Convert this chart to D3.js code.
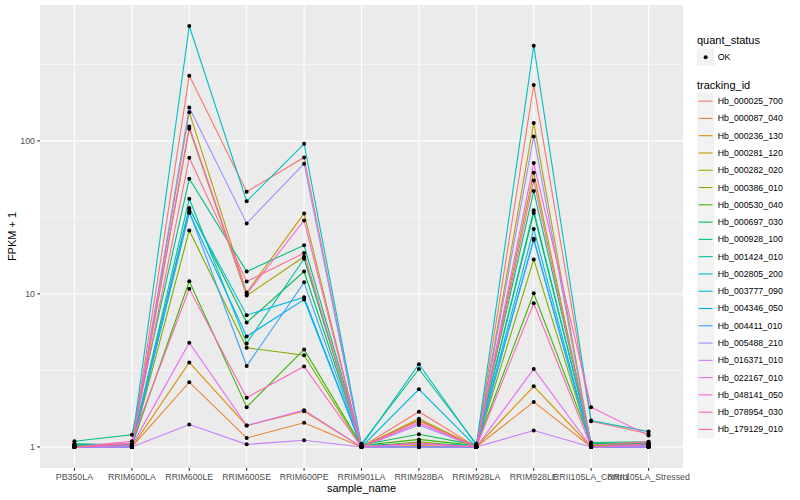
<!DOCTYPE html>
<html>
<head>
<meta charset="utf-8">
<script src="https://cdn.jsdelivr.net/npm/d3@7"></script>
<style>
  body { margin: 0; background: #fff; }
  text { font-family: "Liberation Sans", Arial, sans-serif; }
</style>
</head>
<body>
<div id="chart"></div>
<script>
// sample names on the x axis
const samples = ["PB350LA", "RRIM600LA", "RRIM600LE", "RRIM600SE", "RRIM600PE", "RRIM901LA",
  "RRIM928BA", "RRIM928LA", "RRIM928LE", "RRII105LA_Control", "RRII105LA_Stressed"];

const trackingIds = ["Hb_000025_700", "Hb_000087_040", "Hb_000236_130", "Hb_000281_120", "Hb_000282_020",
  "Hb_000386_010", "Hb_000530_040", "Hb_000697_030", "Hb_000928_100", "Hb_001424_010",
  "Hb_002805_200", "Hb_003777_090", "Hb_004346_050", "Hb_004411_010", "Hb_005488_210",
  "Hb_016371_010", "Hb_022167_010", "Hb_048141_050", "Hb_078954_030", "Hb_179129_010"];

// ggplot hue palette, 20 levels
const colors = ["#F8766D", "#EA8331", "#D89000", "#C09B00", "#A3A500", "#7CAE00", "#39B600", "#00BB4E",
  "#00BF7D", "#00C1A3", "#00BFC4", "#00BAE0", "#00B0F6", "#35A2FF", "#9590FF", "#C77CFF",
  "#E76BF3", "#FA62DB", "#FF62BC", "#FF6C91"];

// FPKM + 1, one row per tracking_id, in sample order
const fpkm = [
  [1.00, 1.02, 267, 46.5, 78.0, 1.00, 1.70, 1.00, 232, 1.47, 1.22],
  [1.00, 1.00, 2.65, 1.145, 1.44, 1.00, 1.00, 1.00, 1.97, 1.00, 1.00],
  [1.00, 1.00, 3.57, 1.38, 1.71, 1.00, 1.02, 1.00, 2.49, 1.00, 1.00],
  [1.01, 1.00, 154, 10.2, 33.6, 1.00, 1.53, 1.00, 131, 1.02, 1.02],
  [1.02, 1.01, 120, 9.75, 17.5, 1.01, 1.50, 1.01, 62.0, 1.03, 1.04],
  [1.00, 1.00, 26.0, 4.45, 3.97, 1.00, 1.08, 1.00, 16.8, 1.02, 1.03],
  [1.03, 1.02, 12.1, 1.82, 4.34, 1.02, 1.12, 1.02, 10.1, 1.05, 1.06],
  [1.05, 1.03, 36.5, 6.50, 14.0, 1.03, 1.21, 1.03, 33.8, 1.06, 1.05],
  [1.09, 1.20, 56.6, 14.0, 20.8, 1.05, 3.23, 1.05, 47.1, 1.07, 1.08],
  [1.04, 1.03, 41.9, 4.75, 17.0, 1.03, 1.05, 1.03, 35.2, 1.05, 1.04],
  [1.03, 1.05, 563, 40.3, 95.7, 1.02, 3.47, 1.03, 419, 1.49, 1.26],
  [1.00, 1.00, 35.9, 7.26, 9.52, 1.00, 2.38, 1.00, 26.6, 1.00, 1.00],
  [1.00, 1.00, 33.8, 5.27, 9.20, 1.00, 1.00, 1.00, 22.9, 1.00, 1.00],
  [1.00, 1.00, 34.5, 3.38, 11.9, 1.00, 1.00, 1.00, 22.5, 1.00, 1.00],
  [1.00, 1.00, 165, 28.9, 71.0, 1.00, 1.39, 1.00, 107, 1.01, 1.00],
  [1.00, 1.00, 1.40, 1.04, 1.105, 1.00, 1.00, 1.00, 1.28, 1.00, 1.00],
  [1.00, 1.02, 4.80, 1.38, 1.74, 1.00, 1.05, 1.00, 3.23, 1.00, 1.02],
  [1.00, 1.06, 124, 10.0, 30.2, 1.00, 1.43, 1.00, 71.6, 1.82, 1.19],
  [1.00, 1.09, 10.8, 2.10, 3.36, 1.00, 1.06, 1.00, 8.70, 1.00, 1.05],
  [1.00, 1.05, 77.6, 12.05, 18.5, 1.00, 1.48, 1.00, 55.2, 1.03, 1.08]
];

const yTicks = [1, 10, 100];
const yMinor = [Math.sqrt(10), Math.sqrt(1000), Math.sqrt(100000)];

const width = 800, height = 500;
const margin = {top: 5, right: 117, bottom: 32, left: 40};

const svg = d3.select("#chart")
  .append("svg")
  .attr("width", width)
  .attr("height", height);

// x: discrete with ggplot's 0.6 expansion
const xScale = d3.scaleLinear()
  .domain([0.4, samples.length + 0.6])
  .range([margin.left, width - margin.right]);
const xPos = i => xScale(i + 1);

// y: log10 with 5% expansion
const allVals = fpkm.flat();
const lmin = Math.log10(d3.min(allVals)), lmax = Math.log10(d3.max(allVals));
const pad = (lmax - lmin) * 0.05;
const yScale = d3.scaleLog()
  .domain([Math.pow(10, lmin - pad), Math.pow(10, lmax + pad)])
  .range([height - margin.bottom, margin.top]);

// panel
svg.append("rect")
  .attr("x", margin.left).attr("y", margin.top)
  .attr("width", width - margin.right - margin.left)
  .attr("height", height - margin.bottom - margin.top)
  .attr("fill", "#EBEBEB");

const grid = svg.append("g");
grid.selectAll(".minor").data(yMinor).enter().append("line")
  .attr("x1", margin.left).attr("x2", width - margin.right)
  .attr("y1", d => yScale(d)).attr("y2", d => yScale(d))
  .attr("stroke", "#fff").attr("stroke-width", 0.55);
grid.selectAll(".major").data(yTicks).enter().append("line")
  .attr("x1", margin.left).attr("x2", width - margin.right)
  .attr("y1", d => yScale(d)).attr("y2", d => yScale(d))
  .attr("stroke", "#fff").attr("stroke-width", 1.1);
grid.selectAll(".xg").data(samples).enter().append("line")
  .attr("x1", (d, i) => xPos(i)).attr("x2", (d, i) => xPos(i))
  .attr("y1", margin.top).attr("y2", height - margin.bottom)
  .attr("stroke", "#fff").attr("stroke-width", 1.1);

// lines
const line = d3.line()
  .x((d, i) => xPos(i))
  .y(d => yScale(d));

svg.append("g").selectAll("path")
  .data(fpkm)
  .enter()
  .append("path")
  .attr("d", d => line(d))
  .attr("fill", "none")
  .attr("stroke", (d, i) => colors[i])
  .attr("stroke-width", 1.1);

// points
const pts = svg.append("g");
fpkm.forEach(row => {
  pts.selectAll(null)
    .data(row)
    .enter()
    .append("circle")
    .attr("cx", (d, i) => xPos(i))
    .attr("cy", d => yScale(d))
    .attr("r", 2)
    .attr("fill", "#000");
});

// axes
const xAxis = svg.append("g")
  .attr("transform", `translate(0,${height - margin.bottom})`);
xAxis.selectAll("line").data(samples).enter().append("line")
  .attr("x1", (d, i) => xPos(i)).attr("x2", (d, i) => xPos(i))
  .attr("y1", 0).attr("y2", 2.75)
  .attr("stroke", "#333").attr("stroke-width", 1.1);
xAxis.selectAll("text").data(samples).enter().append("text")
  .attr("x", (d, i) => xPos(i)).attr("y", 12)
  .attr("text-anchor", "middle")
  .attr("font-size", "8.8px").attr("fill", "#4D4D4D")
  .text(d => d);

const yAxis = svg.append("g")
  .attr("transform", `translate(${margin.left},0)`);
yAxis.selectAll("line").data(yTicks).enter().append("line")
  .attr("x1", -2.75).attr("x2", 0)
  .attr("y1", d => yScale(d)).attr("y2", d => yScale(d))
  .attr("stroke", "#333").attr("stroke-width", 1.1);
yAxis.selectAll("text").data(yTicks).enter().append("text")
  .attr("x", -5).attr("y", d => yScale(d) + 3)
  .attr("text-anchor", "end")
  .attr("font-size", "8.8px").attr("fill", "#4D4D4D")
  .text(d => d);

// axis titles
svg.append("text")
  .attr("x", (margin.left + width - margin.right) / 2).attr("y", 492)
  .attr("text-anchor", "middle").attr("font-size", "11px")
  .text("sample_name");
svg.append("text")
  .attr("transform", `translate(16,${(margin.top + height - margin.bottom) / 2}) rotate(-90)`)
  .attr("text-anchor", "middle").attr("font-size", "11px")
  .text("FPKM + 1");

// legends
const lx = 697, keyH = 17.28;
const leg = svg.append("g");
leg.append("text").attr("x", lx).attr("y", 44).attr("font-size", "11px").text("quant_status");
leg.append("rect").attr("x", lx).attr("y", 48.5).attr("width", keyH).attr("height", keyH).attr("fill", "#F2F2F2");
leg.append("circle").attr("cx", lx + keyH / 2).attr("cy", 48.5 + keyH / 2).attr("r", 2).attr("fill", "#000");
leg.append("text").attr("x", lx + keyH + 3.5).attr("y", 48.5 + keyH / 2 + 3).attr("font-size", "8.8px").text("OK");

leg.append("text").attr("x", lx).attr("y", 89).attr("font-size", "11px").text("tracking_id");
const keys = leg.selectAll(".key").data(trackingIds).enter().append("g")
  .attr("transform", (d, i) => `translate(${lx},${92.5 + i * keyH})`);
keys.append("rect").attr("width", keyH).attr("height", keyH).attr("fill", "#F2F2F2");
keys.append("line")
  .attr("x1", 1.7).attr("x2", keyH - 1.7)
  .attr("y1", keyH / 2).attr("y2", keyH / 2)
  .attr("stroke", (d, i) => colors[i]).attr("stroke-width", 1.1);
keys.append("text")
  .attr("x", keyH + 3.5).attr("y", keyH / 2 + 3)
  .attr("font-size", "8.8px").attr("fill", "#000")
  .text(d => d);
</script>
</body>
</html>
